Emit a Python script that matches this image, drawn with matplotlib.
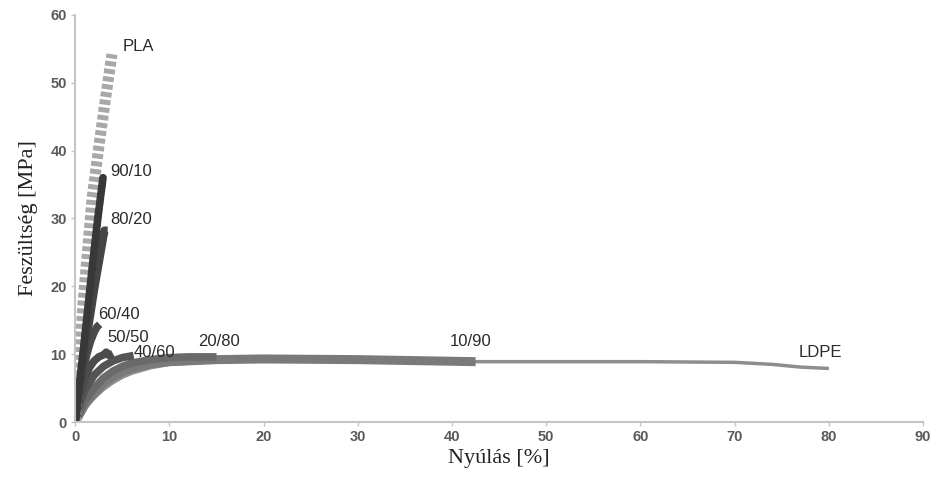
import matplotlib.pyplot as plt

# stress-strain curves (x: strain %, y: stress MPa)
pla_x = [0, 0.2, 0.45, 0.8, 1.3, 1.8, 2.5, 3.2, 3.9]
pla_y = [0, 4, 9, 17, 25, 33, 40.5, 47.5, 54.2]

b90_x = [0, 0.4, 0.9, 1.4, 1.9, 2.4, 2.95]
b90_y = [0, 5, 11, 17.5, 24, 30, 36]

b80_x = [0, 0.5, 1.0, 1.5, 2.0, 2.5, 3.0, 3.1, 3.45]
b80_y = [0, 5.5, 10.5, 15, 19.5, 23.5, 27.5, 28.2, 28.2]

b60_x = [0, 0.4, 0.8, 1.2, 1.6, 2.0, 2.3, 2.6]
b60_y = [0, 4, 7.2, 9.8, 11.8, 13.2, 14.0, 14.4]

b50_x = [0, 0.5, 1.0, 1.5, 2.0, 2.5, 3.0, 3.3, 3.6, 4.0]
b50_y = [0, 3.6, 6.2, 8.0, 9.0, 9.6, 9.9, 10.3, 9.8, 10.1]

b40_x = [0, 0.5, 1.0, 2.0, 3.0, 4.0, 5.0, 6.2]
b40_y = [0, 2.6, 4.6, 6.9, 8.2, 9.0, 9.5, 9.8]

b20_x = [0, 1, 2, 3, 4, 5, 6, 8, 10, 12, 15]
b20_y = [0, 3.0, 5.0, 6.5, 7.5, 8.2, 8.7, 9.2, 9.5, 9.6, 9.6]

b10_x = [0, 1, 2, 3, 4, 5, 6, 8, 10, 15, 20, 30, 42.5]
b10_y = [0, 2.5, 4.3, 5.7, 6.7, 7.4, 7.9, 8.6, 8.9, 9.2, 9.3, 9.2, 8.9]

ldpe_x = [0, 1, 2, 3, 4, 5, 6, 8, 10, 15, 20, 30, 40, 50, 60, 70, 74, 77, 80]
ldpe_y = [0, 2.0, 3.5, 4.8, 5.8, 6.6, 7.2, 8.0, 8.5, 8.9, 9.0, 9.0, 8.9, 8.9, 8.9, 8.8, 8.5, 8.1, 7.9]

labels = ["PLA", "90/10", "80/20", "60/40", "50/50", "40/60", "20/80", "10/90", "LDPE"]
label_x = [5.0, 3.7, 3.7, 2.45, 3.4, 6.2, 13.1, 39.8, 76.8]
label_y = [55.3, 36.9, 29.8, 15.8, 12.5, 10.3, 11.8, 11.8, 10.3]

fig = plt.figure(figsize=(9.4, 4.78), dpi=100)
ax = fig.add_axes([0.080, 0.117, 0.902, 0.852])

# draw the bottom curves first so the steep ones sit on top
ax.plot(ldpe_x, ldpe_y, color="#8e8e8e", lw=2.5, solid_capstyle="butt")
ax.plot(b10_x, b10_y, color="#7a7a7a", lw=6.5, solid_capstyle="butt")
ax.plot(b20_x, b20_y, color="#6a6a6a", lw=5.5, solid_capstyle="butt")
ax.plot(b40_x, b40_y, color="#555555", lw=5.5, solid_capstyle="butt")
ax.plot(b50_x, b50_y, color="#4c4c4c", lw=5.5, solid_capstyle="butt")
ax.plot(b60_x, b60_y, color="#4a4a4a", lw=5.5, solid_capstyle="butt")
ax.plot(pla_x, pla_y, color="#a8a8a8", lw=8, ls=(0, (0.45, 0.25)), dash_capstyle="butt")
ax.plot(b80_x, b80_y, color="#454545", lw=6, solid_capstyle="butt")
ax.plot(b90_x, b90_y, color="#383838", lw=5.5, ls=(0, (1.0, 0.3)), dash_capstyle="round")

for t, x, y in zip(labels, label_x, label_y):
    ax.text(x, y, t, ha="left", va="center", fontsize=12,
            family="Liberation Sans", color="#2a2a2a")

ax.set_xlim(0, 90)
ax.set_ylim(0, 60)
ax.set_xticks(range(0, 91, 10))
ax.set_yticks(range(0, 61, 10))

for s in ["top", "right"]:
    ax.spines[s].set_visible(False)
for s in ["left", "bottom"]:
    ax.spines[s].set_color("#c4c4c4")
    ax.spines[s].set_linewidth(1.5)

ax.tick_params(axis="both", colors="#c4c4c4", length=3, width=1, labelsize=10.5,
               labelcolor="#5a5a5a", pad=3)
for lab in ax.get_xticklabels() + ax.get_yticklabels():
    lab.set_family("Liberation Sans")
    lab.set_fontweight("bold")

ax.set_xlabel("Nyúlás [%]", family="Liberation Serif", fontsize=16, color="#222222", labelpad=3)
ax.set_ylabel("Feszültség [MPa]", family="Liberation Serif", fontsize=16, color="#222222", labelpad=9)

fig.savefig("out.png", dpi=100)
